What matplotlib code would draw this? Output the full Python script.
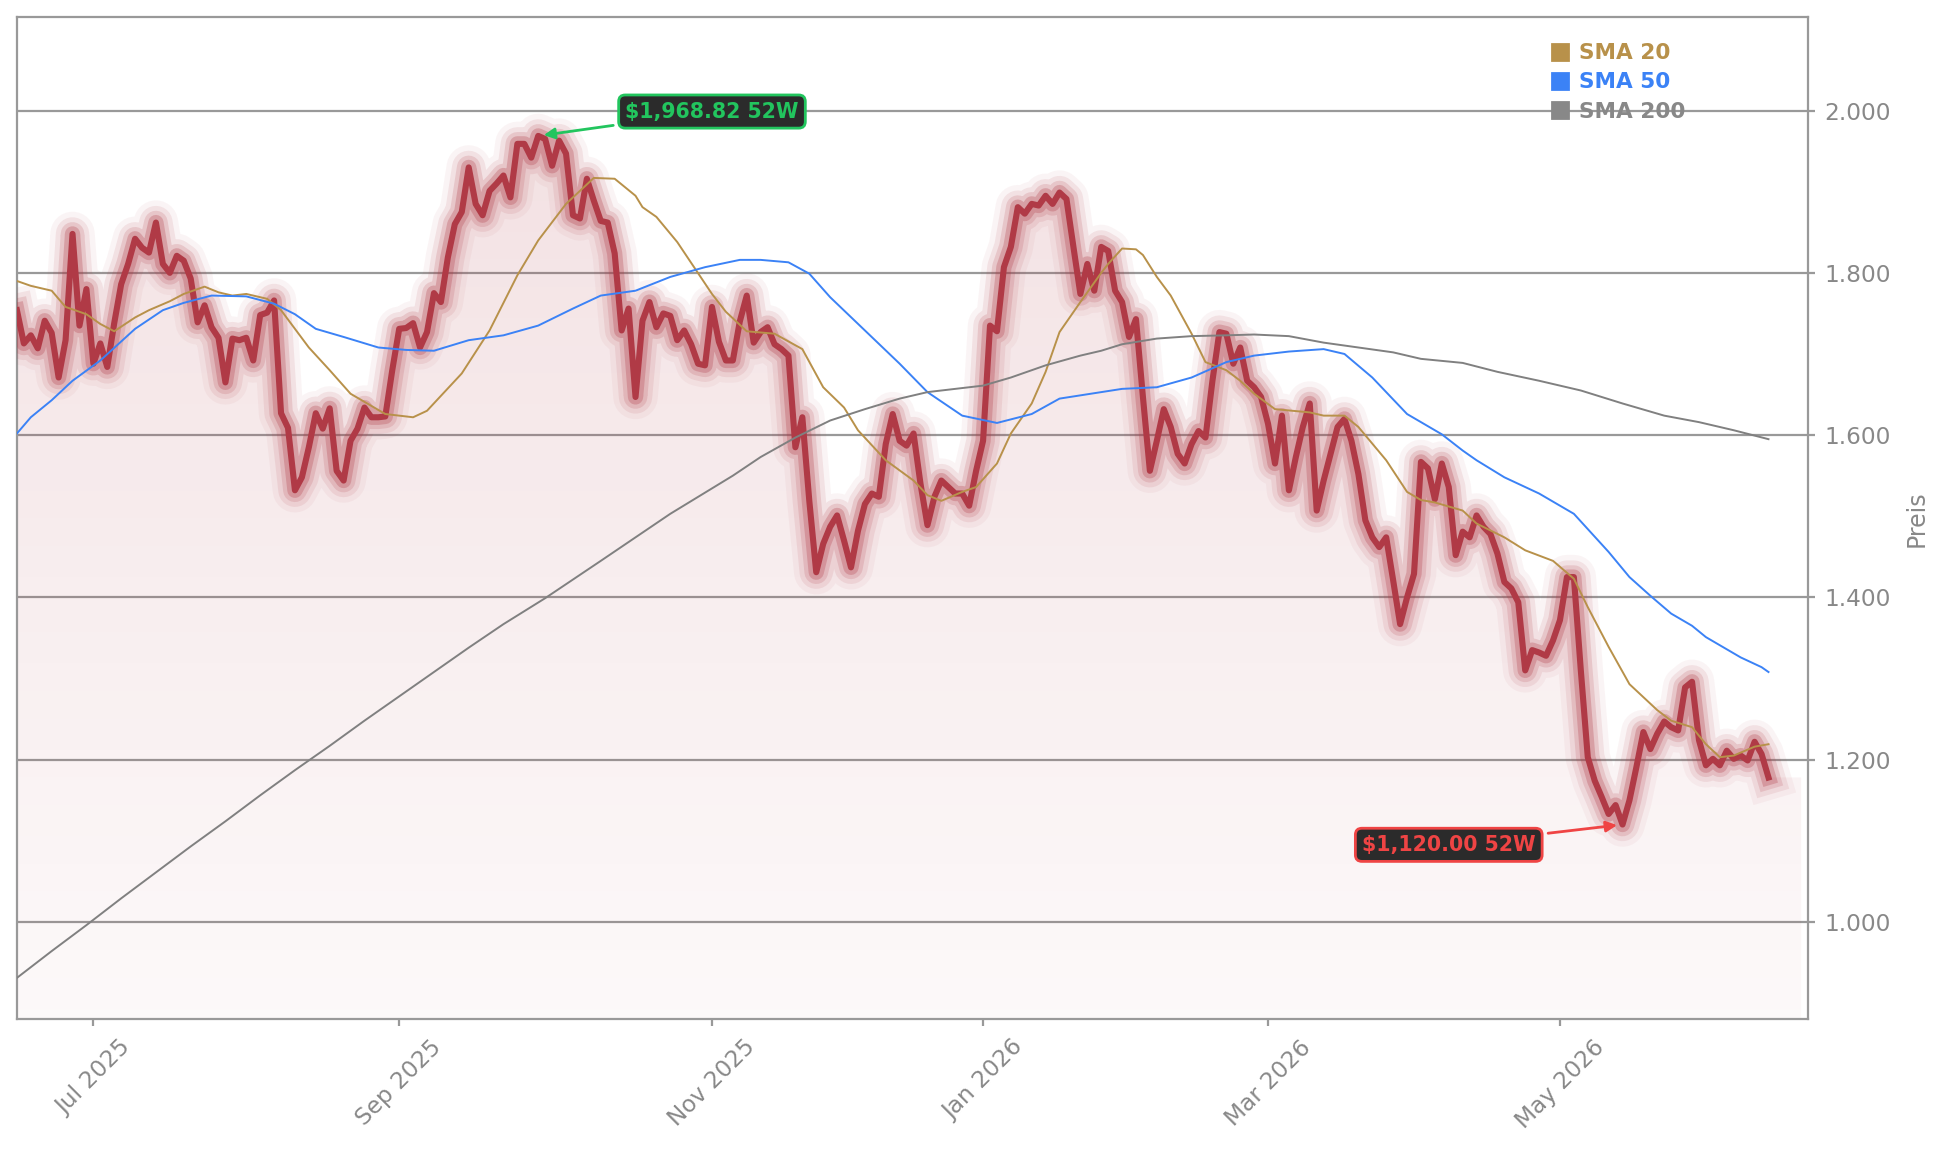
import numpy as np
import matplotlib
matplotlib.use('Agg')
import matplotlib.pyplot as plt
from matplotlib.patches import Polygon
from matplotlib.lines import Line2D
from matplotlib.ticker import FuncFormatter
from matplotlib.colors import to_rgb

# ---------------- data ----------------
price = [
    1754, 1713, 1723, 1707, 1741, 1726, 1671, 1717, 1848, 1735,
    1780, 1688, 1713, 1684, 1738, 1786, 1811, 1842, 1831, 1825,
    1862, 1811, 1800, 1821, 1815, 1793, 1739, 1760, 1733, 1720,
    1665, 1719, 1717, 1720, 1692, 1748, 1751, 1766, 1627, 1609,
    1532, 1548, 1585, 1627, 1608, 1633, 1556, 1544, 1593, 1608,
    1634, 1622, 1622, 1623, 1680, 1731, 1732, 1738, 1708, 1727,
    1775, 1764, 1819, 1860, 1875, 1930, 1885, 1871, 1901, 1910,
    1920, 1893, 1959, 1959, 1942, 1968.82, 1965, 1932, 1963, 1947,
    1871, 1867, 1916, 1889, 1864, 1862, 1824, 1729, 1756, 1647,
    1741, 1764, 1733, 1750, 1747, 1717, 1729, 1712, 1688, 1686,
    1758, 1715, 1692, 1692, 1740, 1772, 1714, 1727, 1733, 1712,
    1706, 1698, 1585, 1622, 1519, 1431, 1466, 1487, 1501, 1470,
    1437, 1482, 1515, 1528, 1524, 1589, 1626, 1593, 1587, 1602,
    1540, 1489, 1524, 1544, 1536, 1528, 1528, 1513, 1556, 1593,
    1735, 1728, 1807, 1832, 1881, 1873, 1885, 1883, 1895, 1885,
    1899, 1891, 1832, 1774, 1811, 1778, 1832, 1827, 1778, 1764,
    1721, 1743, 1647, 1556, 1593, 1632, 1610, 1577, 1565, 1589,
    1605, 1597, 1667, 1727, 1725, 1688, 1708, 1667, 1659, 1647,
    1614, 1565, 1624, 1532, 1573, 1610, 1639, 1507, 1544, 1577,
    1610, 1620, 1593, 1552, 1495, 1474, 1462, 1474, 1421, 1367,
    1400, 1429, 1567, 1559, 1521, 1565, 1536, 1452, 1481, 1474,
    1501, 1487, 1478, 1454, 1419, 1411, 1394, 1310, 1335, 1332,
    1328, 1347, 1372, 1425, 1425, 1310, 1203, 1174, 1154, 1133,
    1144, 1120.00, 1150, 1191, 1234, 1213, 1232, 1247, 1240, 1236,
    1289, 1296, 1224, 1193, 1201, 1193, 1211, 1201, 1205, 1199,
    1222, 1207, 1178,
]

sma20_idx = [0, 2, 5, 7, 10, 12, 14, 17, 19, 22, 24, 27, 29, 31, 33, 36, 38, 42, 45, 48,
             50, 53, 57, 59, 64, 68, 72, 75, 79, 83, 86, 89, 90, 92, 95, 100, 102, 105, 109, 113,
             116, 119, 121, 125, 129, 131, 133, 136, 138, 141, 143, 146, 148, 150, 153, 156, 157, 159, 161, 162,
             164, 166, 169, 171, 174, 176, 178, 181, 186, 188, 191, 193, 197, 200, 202, 204, 208, 210, 214, 217,
             221, 224, 226, 229, 232, 236, 238, 241, 243, 245, 247, 250, 252]
sma20 = [1790, 1784, 1778, 1758, 1749, 1737, 1728, 1745, 1754, 1765, 1774, 1783, 1776, 1772, 1774, 1768, 1754, 1708, 1680, 1651,
         1641, 1626, 1622, 1630, 1676, 1729, 1797, 1840, 1885, 1917, 1916, 1895, 1881, 1869, 1838, 1774, 1752, 1728, 1725, 1706,
         1659, 1634, 1606, 1569, 1544, 1526, 1519, 1530, 1536, 1565, 1602, 1639, 1678, 1727, 1764, 1800, 1811, 1830, 1829, 1822,
         1795, 1772, 1725, 1690, 1680, 1667, 1651, 1632, 1628, 1624, 1624, 1610, 1569, 1530, 1520, 1517, 1507, 1491, 1474, 1458,
         1445, 1423, 1388, 1339, 1293, 1261, 1248, 1240, 1219, 1203, 1205, 1216, 1219]

sma50_idx = [0, 2, 5, 8, 12, 17, 21, 24, 28, 33, 37, 40, 43, 47, 52, 56, 60, 65, 70, 75,
             80, 84, 89, 94, 99, 104, 107, 111, 114, 117, 122, 127, 131, 136, 141, 146, 150, 156, 159, 164,
             169, 174, 178, 183, 188, 191, 195, 200, 205, 208, 210, 214, 219, 224, 229, 232, 235, 238, 241, 243,
             248, 251, 252]
sma50 = [1602, 1622, 1643, 1667, 1692, 1731, 1754, 1763, 1772, 1771, 1762, 1749, 1731, 1721, 1708, 1705, 1704, 1717, 1723, 1735,
         1756, 1772, 1778, 1795, 1807, 1816, 1816, 1813, 1799, 1770, 1729, 1688, 1653, 1624, 1615, 1626, 1645, 1653, 1657, 1659,
         1671, 1690, 1698, 1703, 1706, 1700, 1671, 1626, 1601, 1581, 1569, 1548, 1528, 1503, 1456, 1425, 1402, 1380, 1365, 1351,
         1326, 1314, 1308]

sma200_idx = [0, 5, 10, 15, 20, 25, 30, 35, 40, 45, 50, 55, 60, 65, 70, 76, 84, 94, 103, 107,
              112, 117, 122, 127, 131, 136, 139, 143, 148, 153, 156, 159, 164, 169, 174, 178, 183, 188, 193, 198,
              202, 208, 213, 219, 225, 231, 237, 242, 247, 252]
sma200 = [931, 964, 996, 1029, 1061, 1093, 1124, 1156, 1187, 1217, 1248, 1278, 1308, 1338, 1367, 1399, 1445, 1503, 1550, 1573,
          1597, 1618, 1632, 1645, 1653, 1658, 1661, 1671, 1686, 1698, 1704, 1712, 1719, 1722, 1723, 1724, 1722, 1714, 1708, 1702,
          1694, 1689, 1678, 1667, 1655, 1639, 1624, 1616, 1606, 1595]

tick_idx = [11, 55, 100, 139, 180, 222]
tick_labels = ['Jul 2025', 'Sep 2025', 'Nov 2025', 'Jan 2026', 'Mar 2026', 'May 2026']
y_ticks = [1000, 1200, 1400, 1600, 1800, 2000]
legend_labels = ['SMA 20', 'SMA 50', 'SMA 200']

# ---------------- style ----------------
RED = '#b03a46'
C20 = '#b8914a'
C50 = '#3b82f6'
C200 = '#808080'
GRAY_TXT = '#888888'
SPINE = '#999999'
plt.rcParams['font.family'] = ['DejaVu Sans']

fig = plt.figure(figsize=(9.72, 5.765), dpi=200)
fig.patch.set_facecolor('white')
ax = fig.add_axes([0.0087, 0.116, 0.9214, 0.869])
ax.set_facecolor('white')

x = np.arange(len(price))
p = np.array(price, dtype=float)
ymin, ymax = 880, 2115
xmax = 257.7

for yt in y_ticks:
    ax.axhline(yt, color='#999999', lw=0.8, zorder=0.5)

# gradient fill under price
ext = x[-1] + 4.7
verts = [(x[0], ymin)] + list(zip(x, p)) + [(ext, p[-1]), (ext, ymin)]
poly = Polygon(verts, closed=True, fc='none', ec='none')
ax.add_patch(poly)
n = 256
rgba = np.zeros((n, 1, 4))
rgba[..., :3] = to_rgb(RED)
rgba[..., 3] = np.linspace(0.15, 0.03, n)[:, None]
im = ax.imshow(rgba, extent=[x[0], ext, ymin, p.max()], aspect='auto', origin='upper', zorder=1)
im.set_clip_path(poly)

# glow + main price line
for lw, a in [(16, 0.05), (12, 0.10), (8.5, 0.16), (5.5, 0.28)]:
    ax.plot(x, p, color=RED, lw=lw, alpha=a, solid_joinstyle='round', solid_capstyle='projecting', zorder=3)
ax.plot(x, p, color=RED, lw=2.2, solid_joinstyle='round', zorder=4)

# SMAs
ax.plot(sma20_idx, sma20, color=C20, lw=0.7, zorder=5)
ax.plot(sma50_idx, sma50, color=C50, lw=0.7, zorder=5)
ax.plot(sma200_idx, sma200, color=C200, lw=0.7, zorder=5)

ax.set_xlim(0, xmax)
ax.set_ylim(ymin, ymax)

# axes styling
for s in ax.spines.values():
    s.set_color(SPINE)
    s.set_linewidth(0.8)
ax.yaxis.tick_right()
ax.yaxis.set_label_position('right')
ax.set_yticks(y_ticks)
ax.yaxis.set_major_formatter(FuncFormatter(lambda v, _: f"{v:,.0f}".replace(',', '.')))
ax.set_xticks(tick_idx)
ax.set_xticklabels(tick_labels, rotation=45)
ax.tick_params(axis='both', colors=SPINE, labelcolor=GRAY_TXT, labelsize=8.4, length=2.4, width=0.8)
ax.set_ylabel('Preis', color=GRAY_TXT, fontsize=8.5, labelpad=5)

# annotations
imax = int(np.argmax(p))
imin = int(np.argmin(p))
GREEN = '#22c55e'
RED2 = '#ef4444'
ax.annotate(f"${p[imax]:,.2f} 52W", xy=(imax, p[imax]), xytext=(imax + 25, p[imax] + 30),
            ha='center', va='center', fontsize=7.4, fontweight='bold', color=GREEN,
            bbox=dict(boxstyle='round,pad=0.32', fc='#2b2b2b', ec=GREEN, lw=1.0),
            arrowprops=dict(arrowstyle='-|>', color=GREEN, lw=1.0, mutation_scale=8), zorder=10)
ax.annotate(f"${p[imin]:,.2f} 52W", xy=(imin, p[imin]), xytext=(imin - 25, p[imin] - 25),
            ha='center', va='center', fontsize=7.4, fontweight='bold', color=RED2,
            bbox=dict(boxstyle='round,pad=0.32', fc='#2b2b2b', ec=RED2, lw=1.0),
            arrowprops=dict(arrowstyle='-|>', color=RED2, lw=1.0, mutation_scale=8), zorder=10)

# legend
colors = [C20, C50, '#888888']
handles = [Line2D([], [], marker='s', ls='', color=c, markersize=5.5) for c in colors]
leg = ax.legend(handles, legend_labels, loc='upper left', bbox_to_anchor=(0.8565, 0.974),
                frameon=False, prop={'weight': 'bold', 'size': 7.8}, handlelength=0.8,
                handletextpad=0.5, labelspacing=0.42, borderpad=0, borderaxespad=0)
for t, c in zip(leg.get_texts(), colors):
    t.set_color(c)

fig.savefig('out.png', dpi=200, facecolor='white')
